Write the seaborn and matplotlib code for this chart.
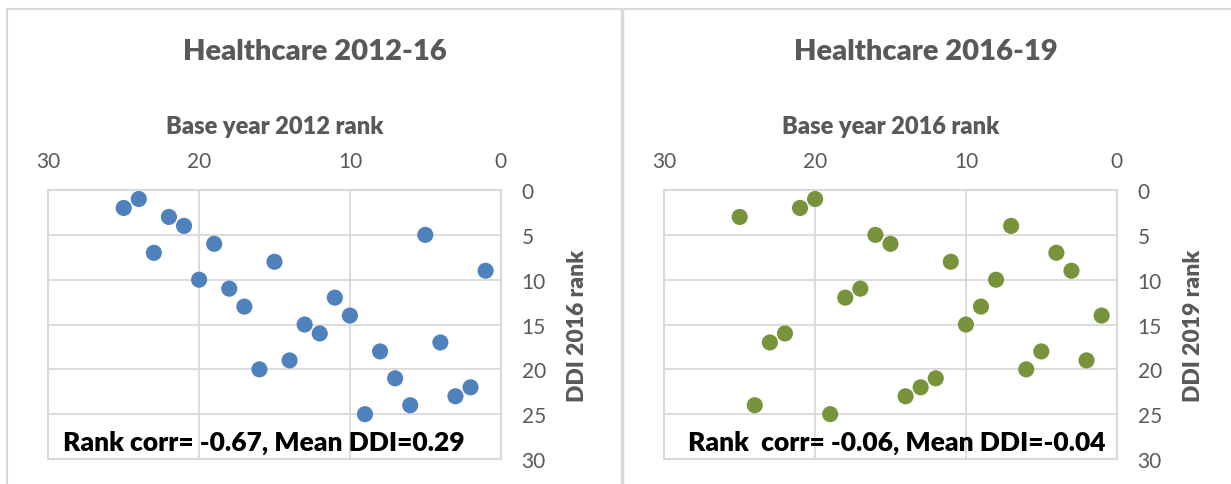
"""
Healthcare rank scatter: base year rank vs DDI rank, two periods
"""

import numpy as np
import pandas as pd
import matplotlib
matplotlib.use('Agg')
import matplotlib.pyplot as plt
from matplotlib.lines import Line2D
import seaborn as sns

# Period 2012-16
base_2012 = [25, 24, 22, 21, 23, 19, 15, 20, 18, 17, 5, 1, 11, 10, 13, 12, 14, 8, 4, 7, 2, 3, 6, 9, 16]
ddi_2016 = [2, 1, 3, 4, 7, 6, 8, 10, 11, 13, 5, 9, 12, 14, 15, 16, 19, 18, 17, 21, 22, 23, 24, 25, 20]

# Period 2016-19
base_2016 = [25, 21, 20, 16, 15, 17, 18, 7, 11, 4, 3, 8, 9, 1, 10, 5, 6, 2, 12, 13, 14, 22, 23, 24, 19]
ddi_2019 = [3, 2, 1, 5, 6, 11, 12, 4, 8, 7, 9, 10, 13, 14, 15, 18, 20, 19, 21, 22, 23, 16, 17, 24, 25]

titles = ['Healthcare 2012-16', 'Healthcare 2016-19']
xlabels = ['Base year 2012 rank', 'Base year 2016 rank']
ylabels = ['DDI 2016 rank', 'DDI 2019 rank']
notes = ['Rank corr= -0.67, Mean DDI=0.29', 'Rank  corr= -0.06, Mean DDI=-0.04']
colors = ['#4f81bd', '#77933c']

GRAY = '#595959'
LIGHT = '#d9d9d9'

sns.set_style('white')
plt.rcParams['font.family'] = ['Lato', 'DejaVu Sans']

fig = plt.figure(figsize=(12.31, 4.85), dpi=100)

panels = [
    pd.DataFrame({'base': base_2012, 'ddi': ddi_2016}),
    pd.DataFrame({'base': base_2016, 'ddi': ddi_2019}),
]
lefts = [48.3 / 1231, 664.3 / 1231]
note_x = [0.477, 0.513]
title_x = [314.5 / 1231, 926 / 1231]

for i, df in enumerate(panels):
    ax = fig.add_axes([lefts[i], 0.0515, 0.3675, 0.5546])
    sns.scatterplot(data=df, x='base', y='ddi', ax=ax, color=colors[i],
                    s=135, edgecolor='none', zorder=3)

    ax.set_xlim(30, 0)
    ax.set_ylim(30, 0)
    ax.set_xticks([30, 20, 10, 0])
    ax.set_yticks([0, 5, 10, 15, 20, 25, 30])
    ax.xaxis.tick_top()
    ax.yaxis.tick_right()
    ax.tick_params(length=0, labelsize=15, labelcolor=GRAY)
    ax.tick_params(axis='x', pad=14)
    ax.tick_params(axis='y', pad=15)
    ax.grid(True, color=LIGHT, linewidth=1.3)
    for sp in ax.spines.values():
        sp.set_color(LIGHT)
        sp.set_linewidth(1.5)

    ax.xaxis.set_label_position('top')
    ax.set_xlabel(xlabels[i], fontsize=17, fontweight='heavy', color=GRAY, labelpad=13)
    ax.yaxis.set_label_position('right')
    ax.set_ylabel(ylabels[i], fontsize=16.5, fontweight='heavy', color=GRAY, labelpad=15)

    ax.text(note_x[i], 0.063, notes[i], transform=ax.transAxes, ha='center', va='center',
            fontsize=19, fontweight='heavy', color='black', zorder=4)

    # chart title, centred on the whole chart area like Excel does
    fig.text(title_x[i], 1 - 60 / 485, titles[i],
             ha='center', va='baseline', fontsize=21, fontweight='heavy', color=GRAY)

# chart-area borders
fig.add_artist(Line2D([7 / 1231, 1], [1 - 10 / 485, 1 - 10 / 485], color=LIGHT, linewidth=1.5))
fig.add_artist(Line2D([7 / 1231, 7 / 1231], [0, 1 - 10 / 485], color=LIGHT, linewidth=1.5))
fig.add_artist(Line2D([622 / 1231, 622 / 1231], [0, 1 - 10 / 485], color=LIGHT, linewidth=2.5))

plt.savefig('out.png', dpi=100)
plt.close()
